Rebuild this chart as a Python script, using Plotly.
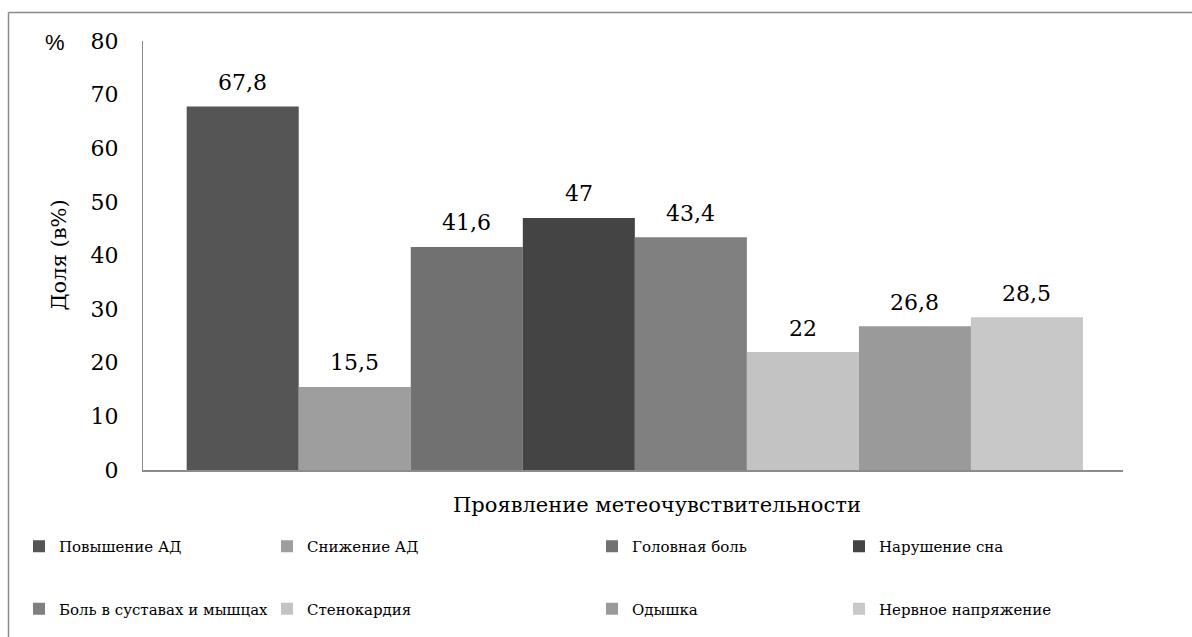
import plotly.graph_objects as go

categories = ["Повышение АД", "Снижение АД", "Головная боль", "Нарушение сна",
              "Боль в суставах и мышцах", "Стенокардия", "Одышка", "Нервное напряжение"]
values = [67.8, 15.5, 41.6, 47, 43.4, 22, 26.8, 28.5]
colors = ["#555555", "#9e9e9e", "#717171", "#444444", "#808080", "#c3c3c3", "#9a9a9a", "#c8c8c8"]
y_ticks = [0, 10, 20, 30, 40, 50, 60, 70, 80]

W, H = 1192, 637
L, R, T, B = 143, 69, 41, 167
PW, PH = W - L - R, H - T - B

def px_x(p):
    return (p - L) / PW

def px_y(p):
    return (H - B - p) / PH

SERIF = "DejaVu Serif"

fig = go.Figure()
legend_text_x = [61, 309, 634, 881]
for i, (name, v, c) in enumerate(zip(categories, values, colors)):
    col = i % 4
    fig.add_trace(go.Bar(
        x=[i], y=[v], name=name, width=1,
        marker=dict(color=c, line=dict(width=0)),
        legend="legend" if col == 0 else f"legend{col + 1}",
        legendgroup=f"g{i}",
        hoverinfo="skip",
    ))
    fig.add_annotation(x=i, y=v, text=f"{v:g}".replace(".", ","), showarrow=False,
                       yanchor="middle", yshift=24,
                       font=dict(family=SERIF, size=22, color="#000"))

leg_common = dict(orientation="v", font=dict(family=SERIF, size=15, color="#000"),
                  tracegroupgap=40, bgcolor="rgba(0,0,0,0)", yanchor="top",
                  y=px_y(530), xanchor="left", itemclick=False, itemdoubleclick=False)
layout_legends = {}
for col in range(4):
    key = "legend" if col == 0 else f"legend{col + 1}"
    layout_legends[key] = dict(leg_common, x=px_x(legend_text_x[col] - 42))

fig.update_layout(
    width=W, height=H,
    margin=dict(l=L, r=R, t=T, b=B, autoexpand=False),
    plot_bgcolor="white", paper_bgcolor="white",
    font=dict(family=SERIF),
    barmode="overlay",
    showlegend=True,
    xaxis=dict(range=[-0.89, 7.857], showticklabels=False, showgrid=False, zeroline=False,
               showline=True, linecolor="#8c8c8c", linewidth=2, ticks="", fixedrange=True),
    yaxis=dict(range=[0, 80], tickvals=y_ticks, showgrid=False, zeroline=False,
               showline=True, linecolor="#8c8c8c", linewidth=1,
               ticks="outside", ticklen=19, tickcolor="rgba(0,0,0,0)",
               tickfont=dict(family=SERIF, size=22, color="#000"), fixedrange=True),
    **layout_legends,
)

# axis titles and "%" mark
fig.add_annotation(xref="paper", yref="paper", x=px_x(58), y=0.5, text="Доля (в%)",
                   textangle=-90, showarrow=False, xanchor="center", yanchor="middle",
                   font=dict(family=SERIF, size=21, color="#000"))
fig.add_annotation(xref="paper", yref="paper", x=px_x(657), y=px_y(505),
                   text="Проявление метеочувствительности", showarrow=False,
                   xanchor="center", yanchor="middle",
                   font=dict(family=SERIF, size=21, color="#000"))
fig.add_annotation(xref="paper", yref="paper", x=px_x(55), y=px_y(42), text="%",
                   showarrow=False, xanchor="center", yanchor="middle",
                   font=dict(family="Liberation Sans", size=22, color="#000"))

# outer chart frame (left and top edges)
fig.add_shape(type="line", xref="paper", yref="paper", x0=px_x(8.5), x1=px_x(8.5),
              y0=px_y(12.5), y1=px_y(H + 5), line=dict(color="#8a8a8a", width=1.5))
fig.add_shape(type="line", xref="paper", yref="paper", x0=px_x(8.5), x1=px_x(W + 5),
              y0=px_y(12.5), y1=px_y(12.5), line=dict(color="#8a8a8a", width=1.5))

fig.write_html("out.html", config={"displayModeBar": False})
